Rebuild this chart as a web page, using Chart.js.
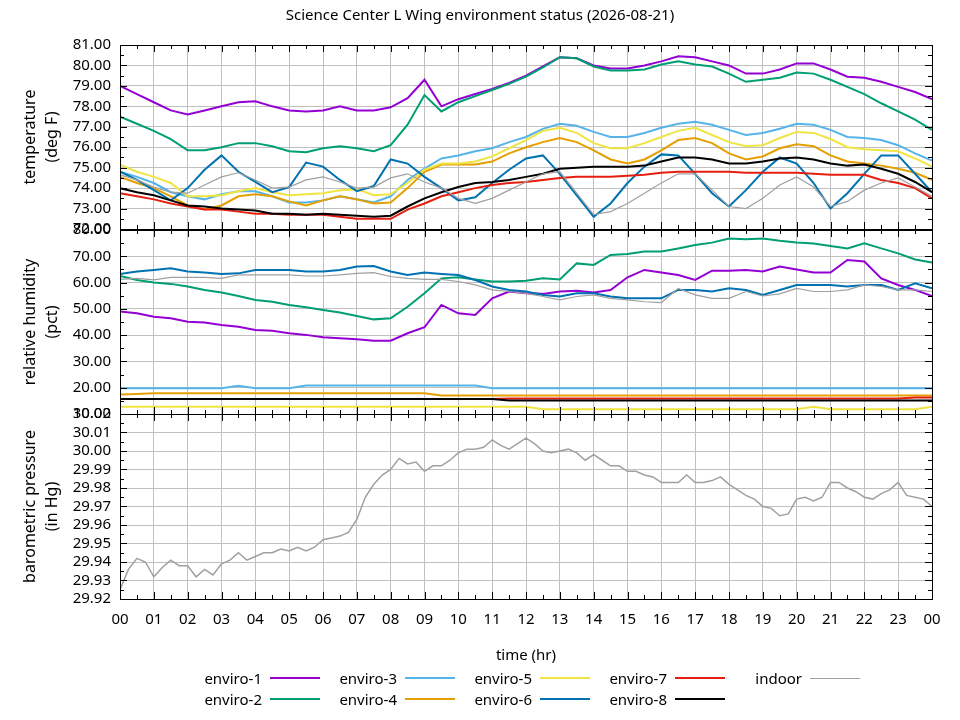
<!DOCTYPE html>
<html>
<head>
<meta charset="utf-8">
<title>Science Center L Wing environment status</title>
<script src="https://cdn.jsdelivr.net/npm/chart.js@4.4.1/dist/chart.umd.min.js"></script>
<style>
  html, body { margin: 0; padding: 0; background: #fff; }
  #wrap { position: relative; width: 960px; height: 720px; font-family: "Noto Sans", sans-serif; color: #000; }
  #wrap canvas { position: absolute; left: 0; top: 0; }
  #title { position: absolute; left: 0; top: 4px; width: 960px; text-align: center; font-size: 15px; line-height: 20px; }
  #xtitle { position: absolute; left: 120px; top: 644px; width: 812px; text-align: center; font-size: 15px; line-height: 20px; }
  .legtext { position: absolute; width: 120px; text-align: right; font-size: 15px; line-height: 20px; white-space: nowrap; }
  .legline { position: absolute; width: 50px; }
</style>
</head>
<body>
<div id="wrap">
  <canvas id="tempChart" width="960" height="720"></canvas>
  <canvas id="humChart" width="960" height="720"></canvas>
  <canvas id="presChart" width="960" height="720"></canvas>
  <div id="title">Science Center L Wing environment status (2026-08-21)</div>
  <div id="xtitle">time (hr)</div>
  <div id="legend"></div>
</div>
<script>
// ==============================
// DATA
// ==============================
const hours = [0, 0.5, 1, 1.5, 2, 2.5, 3, 3.5, 4, 4.5, 5, 5.5, 6, 6.5, 7, 7.5, 8, 8.5, 9, 9.5,
  10, 10.5, 11, 11.5, 12, 12.5, 13, 13.5, 14, 14.5, 15, 15.5, 16, 16.5, 17, 17.5, 18, 18.5, 19, 19.5,
  20, 20.5, 21, 21.5, 22, 22.5, 23, 23.5, 24];

const quarterHours = [0, 0.25, 0.5, 0.75, 1, 1.25, 1.5, 1.75, 2, 2.25, 2.5, 2.75, 3, 3.25, 3.5, 3.75,
  4, 4.25, 4.5, 4.75, 5, 5.25, 5.5, 5.75, 6, 6.25, 6.5, 6.75, 7, 7.25, 7.5, 7.75,
  8, 8.25, 8.5, 8.75, 9, 9.25, 9.5, 9.75, 10, 10.25, 10.5, 10.75, 11, 11.25, 11.5, 11.75,
  12, 12.25, 12.5, 12.75, 13, 13.25, 13.5, 13.75, 14, 14.25, 14.5, 14.75, 15, 15.25, 15.5, 15.75,
  16, 16.25, 16.5, 16.75, 17, 17.25, 17.5, 17.75, 18, 18.25, 18.5, 18.75, 19, 19.25, 19.5, 19.75,
  20, 20.25, 20.5, 20.75, 21, 21.25, 21.5, 21.75, 22, 22.25, 22.5, 22.75, 23, 23.25, 23.5, 23.75, 24];

const hourLabels = ["00", "01", "02", "03", "04", "05", "06", "07", "08", "09", "10", "11", "12",
  "13", "14", "15", "16", "17", "18", "19", "20", "21", "22", "23", "00"];

const seriesNames = ["enviro-1", "enviro-2", "enviro-3", "enviro-4", "enviro-5", "enviro-6", "enviro-7", "enviro-8", "indoor"];
const seriesColors = ["#9400d3", "#009e73", "#56b4e9", "#e69f00", "#f0e442", "#0072b2", "#e51e10", "#000000", "#a0a0a0"];

// temperature (deg F)
const tempEnviro1 = [79.0, 78.6, 78.2, 77.8, 77.6, 77.8, 78.0, 78.2, 78.25, 78.0, 77.8, 77.75, 77.8, 78.0, 77.8, 77.8, 77.95,
  78.4, 79.3, 78.0, 78.35, 78.6, 78.85, 79.15, 79.5, 79.95, 80.4, 80.35, 80.0, 79.85, 79.85, 80.0, 80.2,
  80.45, 80.4, 80.2, 80.0, 79.6, 79.6, 79.8, 80.1, 80.1, 79.8, 79.45, 79.4, 79.2, 78.95, 78.7, 78.35];
const tempEnviro2 = [77.5, 77.15, 76.8, 76.4, 75.85, 75.85, 76.0, 76.2, 76.2, 76.05, 75.8, 75.75, 75.95, 76.05, 75.95, 75.8, 76.1,
  77.1, 78.55, 77.75, 78.2, 78.5, 78.8, 79.1, 79.45, 79.9, 80.4, 80.35, 79.95, 79.75, 79.75, 79.8, 80.05,
  80.2, 80.05, 79.95, 79.6, 79.2, 79.3, 79.4, 79.65, 79.6, 79.3, 78.95, 78.6, 78.15, 77.75, 77.35, 76.85];
const tempEnviro3 = [74.8, 74.55, 74.25, 73.8, 73.6, 73.45, 73.7, 73.85, 73.85, 73.6, 73.3, 73.3, 73.4, 73.6, 73.45, 73.3, 73.6,
  74.4, 74.95, 75.45, 75.6, 75.8, 75.95, 76.25, 76.5, 76.9, 77.15, 77.05, 76.75, 76.5, 76.5, 76.7, 76.95,
  77.15, 77.25, 77.1, 76.85, 76.6, 76.7, 76.9, 77.15, 77.1, 76.85, 76.5, 76.45, 76.35, 76.1, 75.7, 75.35];
const tempEnviro4 = [74.55, 74.25, 74.0, 73.6, 73.15, 72.95, 73.15, 73.6, 73.7, 73.6, 73.35, 73.15, 73.4, 73.6, 73.45, 73.25, 73.3,
  74.0, 74.8, 75.15, 75.15, 75.15, 75.3, 75.7, 76.0, 76.25, 76.45, 76.25, 75.85, 75.4, 75.2, 75.4, 75.85,
  76.35, 76.45, 76.2, 75.7, 75.4, 75.55, 75.95, 76.15, 76.05, 75.6, 75.3, 75.2, 75.1, 74.95, 74.75, 74.4];
const tempEnviro5 = [75.15, 74.8, 74.55, 74.25, 73.6, 73.6, 73.65, 73.85, 74.0, 73.8, 73.65, 73.7, 73.75, 73.9, 73.95, 73.65, 73.7,
  74.25, 74.9, 75.2, 75.2, 75.3, 75.55, 75.95, 76.35, 76.8, 76.95, 76.7, 76.2, 75.95, 75.95, 76.2, 76.5,
  76.8, 76.95, 76.6, 76.25, 76.05, 76.1, 76.45, 76.75, 76.7, 76.4, 76.0, 75.9, 75.85, 75.8, 75.45, 75.05];
const tempEnviro6 = [74.8, 74.4, 73.9, 73.4, 74.0, 74.9, 75.6, 74.8, 74.3, 73.8, 74.05, 75.25, 75.05, 74.4, 73.85, 74.1, 75.4,
  75.2, 74.55, 74.0, 73.4, 73.55, 74.25, 74.9, 75.45, 75.6, 74.7, 73.65, 72.6, 73.25, 74.25, 75.05, 75.65,
  75.6, 74.7, 73.75, 73.1, 73.9, 74.8, 75.5, 75.2, 74.25, 73.0, 73.75, 74.7, 75.6, 75.6, 74.7, 73.8];
const tempEnviro7 = [73.75, 73.6, 73.45, 73.25, 73.1, 72.95, 72.95, 72.85, 72.75, 72.75, 72.7, 72.7, 72.7, 72.6, 72.5, 72.5, 72.5,
  72.95, 73.25, 73.6, 73.8, 74.0, 74.15, 74.25, 74.3, 74.4, 74.5, 74.55, 74.55, 74.55, 74.6, 74.65, 74.75,
  74.8, 74.8, 74.8, 74.8, 74.75, 74.75, 74.75, 74.75, 74.7, 74.65, 74.65, 74.65, 74.4, 74.25, 74.0, 73.5];
const tempEnviro8 = [74.0, 73.8, 73.65, 73.4, 73.15, 73.1, 73.0, 72.95, 72.9, 72.75, 72.75, 72.7, 72.75, 72.7, 72.65, 72.6, 72.65,
  73.1, 73.5, 73.8, 74.05, 74.25, 74.3, 74.4, 74.55, 74.7, 74.95, 75.0, 75.05, 75.05, 75.05, 75.1, 75.3,
  75.5, 75.5, 75.4, 75.2, 75.2, 75.3, 75.45, 75.5, 75.4, 75.2, 75.1, 75.15, 74.95, 74.7, 74.3, 73.8];
const tempIndoor = [74.65, 74.4, 74.05, 73.8, 73.75, 74.15, 74.55, 74.75, 74.4, 74.0, 74.05, 74.4, 74.55, 74.3, 74.0, 74.05, 74.5,
  74.7, 74.3, 74.0, 73.5, 73.25, 73.5, 73.9, 74.3, 74.7, 74.8, 73.75, 72.7, 72.85, 73.25, 73.75, 74.25,
  74.7, 74.7, 73.9, 73.1, 73.0, 73.5, 74.15, 74.55, 74.05, 73.1, 73.35, 73.9, 74.25, 74.5, 74.05, 73.6];

// relative humidity (pct)
const humEnviro1 = [49.0, 48.3, 47.0, 46.4, 45.1, 44.8, 43.9, 43.2, 42.0, 41.7, 40.7, 40.1, 39.2, 38.8, 38.4, 37.9, 37.9,
  40.7, 43.0, 51.5, 48.3, 47.7, 54.0, 56.6, 55.9, 55.7, 56.6, 56.9, 56.2, 57.2, 62.0, 64.8, 63.8,
  62.9, 61.0, 64.5, 64.5, 64.8, 64.2, 66.1, 65.0, 63.8, 63.8, 68.6, 68.0, 61.6, 59.1, 57.2, 54.9];
const humEnviro2 = [62.5, 61.0, 60.0, 59.5, 58.5, 57.2, 56.2, 54.9, 53.4, 52.7, 51.5, 50.6, 49.6, 48.6, 47.3, 46.0, 46.4,
  50.8, 55.9, 61.6, 62.0, 61.2, 60.4, 60.4, 60.7, 61.6, 61.2, 67.3, 66.7, 70.5, 70.9, 71.8, 71.8,
  73.0, 74.3, 75.2, 76.8, 76.5, 76.8, 75.9, 75.2, 74.9, 73.9, 73.0, 74.9, 73.0, 71.1, 68.8, 67.6];
const humEnviro3 = [19.8, 19.8, 19.8, 19.8, 19.8, 19.8, 19.8, 20.7, 19.8, 19.8, 19.8, 20.8, 20.8, 20.8, 20.8, 20.8, 20.8,
  20.8, 20.8, 20.8, 20.8, 20.8, 19.8, 19.8, 19.8, 19.8, 19.8, 19.8, 19.8, 19.8, 19.8, 19.8, 19.8,
  19.8, 19.8, 19.8, 19.8, 19.8, 19.8, 19.8, 19.8, 19.8, 19.8, 19.8, 19.8, 19.8, 19.8, 19.8, 19.8];
const humEnviro4 = [17.4, 17.6, 17.9, 17.9, 17.9, 17.9, 17.9, 17.9, 17.9, 17.9, 17.9, 17.9, 17.9, 17.9, 17.9, 17.9, 17.9,
  17.9, 17.9, 17.0, 17.0, 17.0, 17.0, 17.0, 17.0, 17.0, 17.0, 17.0, 17.0, 17.0, 17.0, 17.0, 17.0,
  17.0, 17.0, 17.0, 17.0, 17.0, 17.0, 17.0, 17.0, 17.0, 17.0, 17.0, 17.0, 17.0, 17.0, 17.0, 17.0];
const humEnviro5 = [12.8, 12.8, 12.8, 12.8, 12.8, 12.8, 12.8, 12.8, 12.8, 12.8, 12.8, 12.8, 12.8, 12.8, 12.8, 12.8, 12.8,
  12.8, 12.8, 12.8, 12.8, 12.8, 12.8, 12.8, 12.8, 11.8, 11.8, 11.8, 11.8, 11.8, 11.8, 11.8, 11.8,
  11.8, 11.8, 11.8, 11.8, 11.8, 11.8, 11.8, 11.8, 12.8, 11.8, 11.8, 11.8, 11.8, 11.8, 11.8, 12.8];
const humEnviro6 = [63.3, 64.2, 64.8, 65.4, 64.2, 63.8, 63.3, 63.5, 64.8, 64.8, 64.8, 64.2, 64.2, 64.8, 66.1, 66.3, 64.2,
  62.9, 63.8, 63.3, 62.9, 61.0, 58.5, 57.2, 56.6, 55.3, 54.7, 55.9, 55.9, 54.7, 54.0, 54.0, 54.0,
  57.2, 57.2, 56.6, 57.8, 57.2, 55.3, 57.2, 59.1, 59.1, 59.1, 58.5, 59.1, 59.1, 57.2, 59.7, 57.8];
const humEnviro7 = [15.7, 15.7, 15.7, 15.7, 15.7, 15.7, 15.7, 15.7, 15.7, 15.7, 15.7, 15.7, 15.7, 15.7, 15.7, 15.7, 15.7,
  15.7, 15.7, 15.7, 15.7, 15.7, 15.7, 15.9, 15.9, 15.9, 15.9, 15.9, 15.9, 15.9, 15.9, 15.9, 15.9,
  15.9, 15.9, 15.9, 15.9, 15.9, 15.9, 15.9, 15.9, 15.9, 15.9, 15.9, 15.9, 15.9, 15.9, 16.3, 16.3];
const humEnviro8 = [15.7, 15.7, 15.7, 15.7, 15.7, 15.7, 15.7, 15.7, 15.7, 15.7, 15.7, 15.7, 15.7, 15.7, 15.7, 15.7, 15.7,
  15.7, 15.7, 15.7, 15.7, 15.7, 15.7, 15.1, 15.1, 15.1, 15.1, 15.1, 15.1, 15.1, 15.1, 15.1, 15.1,
  15.1, 15.1, 15.1, 15.1, 15.1, 15.1, 15.1, 15.1, 15.1, 15.1, 15.1, 15.1, 15.1, 15.1, 15.1, 15.1];
const humIndoor = [61.2, 61.6, 61.0, 62.0, 62.0, 62.0, 61.6, 62.9, 62.9, 62.9, 62.9, 62.5, 62.5, 62.9, 63.5, 63.8, 62.3,
  61.6, 61.2, 61.2, 60.4, 59.1, 57.2, 56.6, 55.9, 54.7, 53.4, 54.7, 55.3, 54.0, 53.4, 52.7, 52.4,
  57.8, 55.3, 54.0, 54.0, 56.6, 54.9, 55.7, 57.8, 56.6, 56.6, 57.2, 59.1, 58.5, 57.2, 57.2, 56.6];

// barometric pressure (in Hg), indoor only, every quarter hour
const presIndoor = [29.925, 29.936, 29.942, 29.940, 29.932, 29.937, 29.941, 29.938, 29.938, 29.932, 29.936, 29.933,
  29.939, 29.941, 29.945, 29.941, 29.943, 29.945, 29.945, 29.947, 29.946, 29.948, 29.946, 29.948,
  29.952, 29.953, 29.954, 29.956, 29.963, 29.975, 29.982, 29.987, 29.990, 29.996, 29.993, 29.994,
  29.989, 29.992, 29.992, 29.995, 29.999, 30.001, 30.001, 30.002, 30.006, 30.003, 30.001, 30.004,
  30.007, 30.004, 30.000, 29.999, 30.000, 30.001, 29.999, 29.995, 29.998, 29.995, 29.992, 29.992,
  29.989, 29.989, 29.987, 29.986, 29.983, 29.983, 29.983, 29.987, 29.983, 29.983, 29.984, 29.986,
  29.982, 29.979, 29.976, 29.974, 29.970, 29.969, 29.965, 29.966, 29.974, 29.975, 29.973, 29.975,
  29.983, 29.983, 29.980, 29.978, 29.975, 29.974, 29.977, 29.979, 29.983, 29.976, 29.975, 29.974, 29.970];

// ==============================
// ESTILO
// ==============================
const FONT = "'Noto Sans', sans-serif";
const GRID = "#c0c0c0";
const PLOT_LEFT = 120;
const PLOT_RIGHT = 932;

// marco negro con marcas hacia dentro (estilo gnuplot)
const frameTicks = {
  id: "frameTicks",
  afterDatasetsDraw(chart, args, opts) {
    const { ctx, chartArea: a, scales: { x, y } } = chart;
    ctx.save();
    ctx.strokeStyle = "#000";
    ctx.lineWidth = 1;
    ctx.beginPath();
    for (let i = 0; i <= 48; i++) {
      const px = Math.round(x.getPixelForValue(i / 2)) + 0.5;
      const len = i % 2 === 0 ? 7 : 4;
      ctx.moveTo(px, a.top); ctx.lineTo(px, a.top + len);
      ctx.moveTo(px, a.bottom); ctx.lineTo(px, a.bottom - len);
    }
    const n = Math.round((y.max - y.min) / opts.minor);
    for (let i = 0; i <= n; i++) {
      const py = Math.round(y.getPixelForValue(y.min + i * opts.minor)) + 0.5;
      const len = i % 2 === 0 ? 7 : 4;
      ctx.moveTo(a.left, py); ctx.lineTo(a.left + len, py);
      ctx.moveTo(a.right, py); ctx.lineTo(a.right - len, py);
    }
    ctx.stroke();
    ctx.strokeRect(Math.round(a.left) + 0.5, Math.round(a.top) + 0.5,
      Math.round(a.right - a.left), Math.round(a.bottom - a.top));
    ctx.restore();
  }
};

function makeDatasets(list) {
  return list.map((vals, i) => ({
    label: seriesNames[i],
    data: vals,
    borderColor: seriesColors[i],
    borderWidth: i === 8 ? 1.2 : 2,
    pointRadius: 0,
    tension: 0,
    order: list.length - i
  }));
}

function panel(id, cfg) {
  return new Chart(document.getElementById(id), {
    type: "line",
    data: { labels: cfg.labels, datasets: cfg.datasets },
    options: {
      responsive: false,
      animation: false,
      events: [],
      layout: { padding: { top: cfg.top, bottom: 720 - cfg.bottom - cfg.xHeight, left: 0, right: 960 - PLOT_RIGHT } },
      plugins: { legend: { display: false }, tooltip: { enabled: false }, frameTicks: { minor: cfg.minor } },
      scales: {
        x: {
          type: "linear", min: 0, max: 24,
          afterFit: s => { s.height = cfg.xHeight; },
          ticks: {
            display: cfg.showX, stepSize: 1, autoSkip: false, maxRotation: 0, padding: 12,
            color: "#000", font: { family: FONT, size: 15 },
            callback: v => hourLabels[v]
          },
          grid: { color: GRID, drawTicks: false },
          border: { display: false }
        },
        y: {
          min: cfg.min, max: cfg.max,
          afterFit: s => { s.width = PLOT_LEFT; },
          ticks: {
            stepSize: cfg.step, autoSkip: false, padding: 9,
            color: "#000", font: { family: FONT, size: 15 },
            callback: v => v.toFixed(2)
          },
          grid: { color: GRID, drawTicks: false },
          border: { display: false },
          title: {
            display: true, text: cfg.title, color: "#000",
            font: { family: FONT, size: 16, lineHeight: 1.4 },
            padding: { top: 19, bottom: 0 }
          }
        }
      }
    },
    plugins: [frameTicks]
  });
}

// ==============================
// PANELES
// ==============================
panel("tempChart", {
  labels: hours,
  datasets: makeDatasets([tempEnviro1, tempEnviro2, tempEnviro3, tempEnviro4, tempEnviro5,
    tempEnviro6, tempEnviro7, tempEnviro8, tempIndoor]),
  top: 45, bottom: 229, xHeight: 0, showX: false,
  min: 72, max: 81, step: 1, minor: 0.5,
  title: ["temperature", "(deg F)"]
});

panel("humChart", {
  labels: hours,
  datasets: makeDatasets([humEnviro1, humEnviro2, humEnviro3, humEnviro4, humEnviro5,
    humEnviro6, humEnviro7, humEnviro8, humIndoor]),
  top: 230, bottom: 414, xHeight: 0, showX: false,
  min: 10, max: 80, step: 10, minor: 5,
  title: ["relative humidity", "(pct)"]
});

panel("presChart", {
  labels: quarterHours,
  datasets: [{
    label: seriesNames[8], data: presIndoor, borderColor: seriesColors[8],
    borderWidth: 1.5, pointRadius: 0, tension: 0
  }],
  top: 414, bottom: 599, xHeight: 40, showX: true,
  min: 29.92, max: 30.02, step: 0.01, minor: 0.005,
  title: ["barometric pressure", "(in Hg)"]
});

// ==============================
// LEYENDA
// ==============================
const legend = document.getElementById("legend");
seriesNames.forEach((name, i) => {
  const col = Math.floor(i / 2);
  const row = i % 2;
  const textRight = 262 + col * 135;
  const rowY = 678 + row * 21;

  const t = document.createElement("div");
  t.className = "legtext";
  t.textContent = name;
  t.style.left = (textRight - 120) + "px";
  t.style.top = (rowY - 10) + "px";
  legend.appendChild(t);

  const lw = i === 8 ? 1 : 2;
  const l = document.createElement("div");
  l.className = "legline";
  l.style.left = (textRight + 8) + "px";
  l.style.top = (rowY - lw / 2) + "px";
  l.style.height = lw + "px";
  l.style.background = seriesColors[i];
  legend.appendChild(l);
});
</script>
</body>
</html>
